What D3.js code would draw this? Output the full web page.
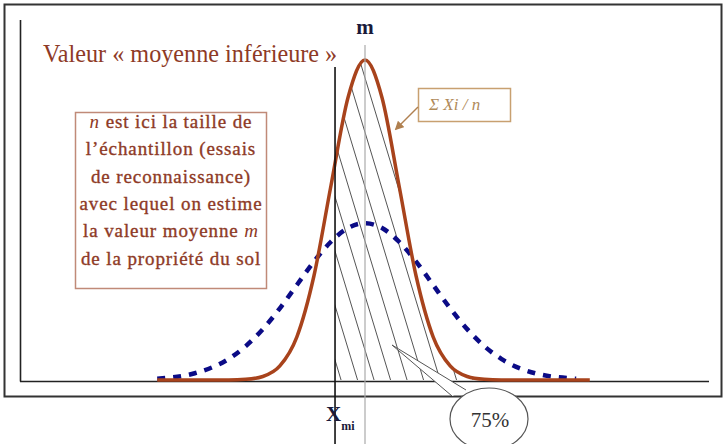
<!DOCTYPE html>
<html>
<head>
<meta charset="utf-8">
<script src="https://cdn.jsdelivr.net/npm/d3@7"></script>
<style>
  html, body { margin: 0; padding: 0; background: #fff; }
  svg { display: block; }
</style>
</head>
<body>
<svg id="chart" width="723" height="444"></svg>
<script>
// Distribution of the sample mean (narrow, solid) vs. distribution of the soil property (wide, dashed).
// x in units relative to the mean m, y as relative density.
const meanX = [-6.1, -4, -3.5, -3, -2.5, -2, -1.5, -1, -0.5, 0, 0.5, 1, 1.5, 2, 2.5, 3, 3.5, 4, 6.6];
const meanY = [0, 0, 0.002, 0.011, 0.044, 0.135, 0.325, 0.607, 0.882, 1, 0.882, 0.607, 0.325, 0.135, 0.044, 0.011, 0.002, 0, 0];

const propX = [-6.1, -5, -4, -3.5, -3, -2.5, -2, -1.5, -1, -0.5, 0, 0.5, 1, 1.5, 2, 2.5, 3, 3.5, 4, 5, 6.2];
const propY = [0.004, 0.021, 0.066, 0.106, 0.159, 0.224, 0.297, 0.370, 0.432, 0.475, 0.49, 0.475, 0.432, 0.370, 0.297, 0.224, 0.159, 0.106, 0.066, 0.021, 0.004];

// Key abscissas
const mValue = 0;          // true mean m
const xmiValue = -0.88;    // lower mean value X_mi
const shareLabel = "75%";

const titleText = "Valeur « moyenne inférieure »";
const noteLines = [
  [{t: "n", i: true}, {t: " est ici la taille de"}],
  [{t: "l’échantillon (essais"}],
  [{t: "de reconnaissance)"}],
  [{t: "avec lequel on estime"}],
  [{t: "la valeur moyenne "}, {t: "m", i: true}],
  [{t: "de la propriété du sol"}]
];
const calloutText = "Σ Xi / n";

const svg = d3.select("#chart");

const x = d3.scaleLinear().domain([-10.1, 10.1]).range([21, 709]);
const y = d3.scaleLinear().domain([0, 1]).range([380, 60]);

const brown = "#a8431c";
const textRed = "#8e3a26";

// Outer frame
svg.append("rect")
  .attr("x", 4.5).attr("y", 4.5).attr("width", 717).attr("height", 392)
  .attr("fill", "none").attr("stroke", "#333").attr("stroke-width", 2);

// Axes frame (left + bottom)
svg.append("line").attr("x1", 20.5).attr("x2", 20.5).attr("y1", 20).attr("y2", 381.5)
  .attr("stroke", "#222").attr("stroke-width", 1.6);
svg.append("line").attr("x1", 20).attr("x2", 709).attr("y1", 381.5).attr("y2", 381.5)
  .attr("stroke", "#222").attr("stroke-width", 1.6);

const meanPts = meanX.map((v, i) => [v, meanY[i]]);
const propPts = propX.map((v, i) => [v, propY[i]]);

const line = d3.line().x(d => x(d[0])).y(d => y(d[1])).curve(d3.curveMonotoneX);
const area = d3.area().x(d => x(d[0])).y0(y(0)).y1(d => y(d[1])).curve(d3.curveMonotoneX);

// Hatched share to the right of X_mi under the narrow curve
const defs = svg.append("defs");
defs.append("clipPath").attr("id", "clipRight")
  .append("rect").attr("x", x(xmiValue)).attr("y", 0).attr("width", 723).attr("height", y(0));
defs.append("clipPath").attr("id", "clipArea")
  .append("path").attr("d", area(meanPts));

const hatch = svg.append("g").attr("clip-path", "url(#clipRight)")
  .append("g").attr("clip-path", "url(#clipArea)");
const slope = 3.3, spacing = 16.5;
const hatchStarts = d3.range(x(xmiValue) - 130, x(6.6) + 10, spacing);
hatch.selectAll("line").data(hatchStarts).enter().append("line")
  .attr("x1", d => d).attr("y1", 40)
  .attr("x2", d => d + 400 / slope).attr("y2", 440)
  .attr("stroke", "#555").attr("stroke-width", 1);

// Dashed wide distribution
svg.append("path").attr("d", line(propPts))
  .attr("fill", "none").attr("stroke", "#0b0b86").attr("stroke-width", 4.5)
  .attr("stroke-dasharray", "8,8");

// Narrow distribution of the mean
svg.append("path").attr("d", line(meanPts))
  .attr("fill", "none").attr("stroke", brown).attr("stroke-width", 3.5)
  .attr("stroke-linejoin", "round");

// m line and X_mi line
svg.append("line").attr("x1", x(mValue)).attr("x2", x(mValue)).attr("y1", 45).attr("y2", 444)
  .attr("stroke", "#aaa").attr("stroke-width", 1.2);
svg.append("line").attr("x1", x(xmiValue)).attr("x2", x(xmiValue)).attr("y1", 67).attr("y2", 444)
  .attr("stroke", "#111").attr("stroke-width", 1.6);

// Labels
svg.append("text").attr("x", x(mValue)).attr("y", 34).attr("text-anchor", "middle")
  .attr("font-family", "Liberation Serif").attr("font-weight", "bold").attr("font-size", 21)
  .attr("fill", "#1a1a3a").text("m");

const xl = svg.append("text").attr("x", x(xmiValue) - 9).attr("y", 421)
  .attr("font-family", "Liberation Serif").attr("font-weight", "bold").attr("fill", "#1a1a3a");
xl.append("tspan").attr("font-size", 21).text("X");
xl.append("tspan").attr("font-size", 12).attr("dy", 9).text("mi");

svg.append("text").attr("x", 43).attr("y", 62)
  .attr("font-family", "Liberation Serif").attr("font-size", 24.2)
  .attr("fill", textRed).text(titleText);

// Note box
svg.append("rect").attr("x", 75.5).attr("y", 112.5).attr("width", 191).attr("height", 176)
  .attr("fill", "#fff").attr("stroke", "#c08a78").attr("stroke-width", 1.5);
const note = svg.append("text").attr("font-family", "Liberation Serif").attr("font-size", 19)
  .attr("letter-spacing", 0.9)
  .attr("fill", textRed).attr("text-anchor", "middle")
  .attr("stroke", textRed).attr("stroke-width", 0.35);
noteLines.forEach((parts, i) => {
  const row = note.append("tspan").attr("x", 171).attr("y", 128 + i * 27.3);
  parts.forEach(p => {
    const s = row.append("tspan").text(p.t);
    if (p.i) s.attr("font-style", "italic").attr("stroke-width", 0);
  });
});

// Σ Xi / n callout
svg.append("rect").attr("x", 418.5).attr("y", 88.5).attr("width", 92).attr("height", 33)
  .attr("fill", "#fff").attr("stroke", "#c8a070").attr("stroke-width", 1.5);
svg.append("text").attr("x", 429).attr("y", 110)
  .attr("font-family", "Liberation Serif").attr("font-style", "italic").attr("font-size", 17)
  .attr("fill", "#b08a5a").text(calloutText);
defs.append("marker").attr("id", "arr").attr("viewBox", "0 0 10 10")
  .attr("refX", 8).attr("refY", 5).attr("markerWidth", 6).attr("markerHeight", 6)
  .attr("orient", "auto")
  .append("path").attr("d", "M0,0 L10,5 L0,10 z").attr("fill", "#b08050");
svg.append("line").attr("x1", 418).attr("y1", 107).attr("x2", 396).attr("y2", 129)
  .attr("stroke", "#b08050").attr("stroke-width", 1.5).attr("marker-end", "url(#arr)");

// 75% bubble
svg.append("path").attr("d", "M452,396 L392,345 L466,390")
  .attr("fill", "#fff").attr("stroke", "#555").attr("stroke-width", 1);
svg.append("ellipse").attr("cx", 489).attr("cy", 419).attr("rx", 39).attr("ry", 31)
  .attr("fill", "#fff").attr("stroke", "#555").attr("stroke-width", 1.2);
svg.append("text").attr("x", 490).attr("y", 427).attr("text-anchor", "middle")
  .attr("font-family", "Liberation Serif").attr("font-size", 21)
  .attr("fill", "#333").text(shareLabel);
</script>
</body>
</html>
